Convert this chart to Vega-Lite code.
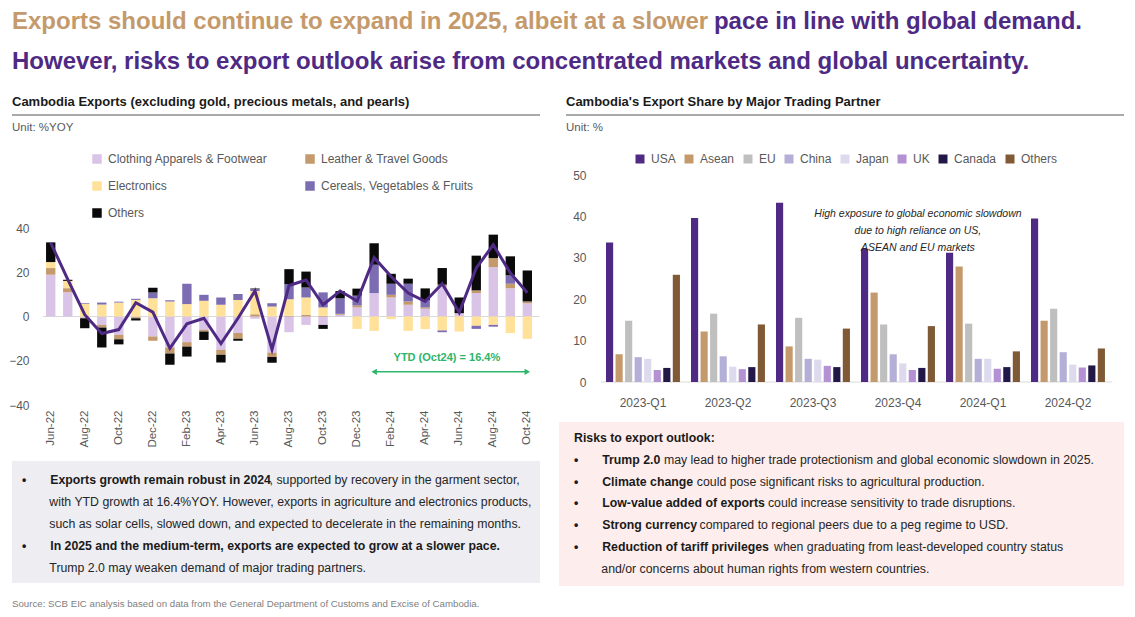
{
"$schema":"https://vega.github.io/schema/vega-lite/v6.json",
"padding":{"left":8,"top":0,"right":0,"bottom":0},
"background":"white",
"config":{"view":{"stroke":null},"font":"Liberation Sans","axis":{"labelFont":"Liberation Sans"},"legend":{"labelFont":"Liberation Sans"},"text":{"font":"Liberation Sans"}},
"datasets":{
"exports":[
{"m":"Jun-22","cat":"Clothing Apparels & Footwear","k":1,"v":18.9},{"m":"Jun-22","cat":"Leather & Travel Goods","k":2,"v":3.0},{"m":"Jun-22","cat":"Electronics","k":3,"v":2.7},{"m":"Jun-22","cat":"Cereals, Vegetables & Fruits","k":4,"v":0},{"m":"Jun-22","cat":"Others","k":5,"v":8.9},
{"m":"Jul-22","cat":"Clothing Apparels & Footwear","k":1,"v":11.0},{"m":"Jul-22","cat":"Leather & Travel Goods","k":2,"v":1.8},{"m":"Jul-22","cat":"Electronics","k":3,"v":3.3},{"m":"Jul-22","cat":"Cereals, Vegetables & Fruits","k":4,"v":0},{"m":"Jul-22","cat":"Others","k":5,"v":0.5},
{"m":"Aug-22","cat":"Clothing Apparels & Footwear","k":1,"v":-0.5},{"m":"Aug-22","cat":"Leather & Travel Goods","k":2,"v":-0.3},{"m":"Aug-22","cat":"Electronics","k":3,"v":5.8},{"m":"Aug-22","cat":"Cereals, Vegetables & Fruits","k":4,"v":0.3},{"m":"Aug-22","cat":"Others","k":5,"v":-4.5},
{"m":"Sep-22","cat":"Clothing Apparels & Footwear","k":1,"v":-3.8},{"m":"Sep-22","cat":"Leather & Travel Goods","k":2,"v":-1.2},{"m":"Sep-22","cat":"Electronics","k":3,"v":5.4},{"m":"Sep-22","cat":"Cereals, Vegetables & Fruits","k":4,"v":0.9},{"m":"Sep-22","cat":"Others","k":5,"v":-9.0},
{"m":"Oct-22","cat":"Clothing Apparels & Footwear","k":1,"v":-8.3},{"m":"Oct-22","cat":"Leather & Travel Goods","k":2,"v":-2.0},{"m":"Oct-22","cat":"Electronics","k":3,"v":6.3},{"m":"Oct-22","cat":"Cereals, Vegetables & Fruits","k":4,"v":0.4},{"m":"Oct-22","cat":"Others","k":5,"v":-2.3},
{"m":"Nov-22","cat":"Clothing Apparels & Footwear","k":1,"v":-0.3},{"m":"Nov-22","cat":"Leather & Travel Goods","k":2,"v":-0.5},{"m":"Nov-22","cat":"Electronics","k":3,"v":7.5},{"m":"Nov-22","cat":"Cereals, Vegetables & Fruits","k":4,"v":0.5},{"m":"Nov-22","cat":"Others","k":5,"v":-1.0},
{"m":"Dec-22","cat":"Clothing Apparels & Footwear","k":1,"v":-9.0},{"m":"Dec-22","cat":"Leather & Travel Goods","k":2,"v":-2.0},{"m":"Dec-22","cat":"Electronics","k":3,"v":8.3},{"m":"Dec-22","cat":"Cereals, Vegetables & Fruits","k":4,"v":2.6},{"m":"Dec-22","cat":"Others","k":5,"v":2.1},
{"m":"Jan-23","cat":"Clothing Apparels & Footwear","k":1,"v":-14.0},{"m":"Jan-23","cat":"Leather & Travel Goods","k":2,"v":-2.7},{"m":"Jan-23","cat":"Electronics","k":3,"v":6.8},{"m":"Jan-23","cat":"Cereals, Vegetables & Fruits","k":4,"v":0.6},{"m":"Jan-23","cat":"Others","k":5,"v":-5.1},
{"m":"Feb-23","cat":"Clothing Apparels & Footwear","k":1,"v":-11.6},{"m":"Feb-23","cat":"Leather & Travel Goods","k":2,"v":-2.0},{"m":"Feb-23","cat":"Electronics","k":3,"v":5.6},{"m":"Feb-23","cat":"Cereals, Vegetables & Fruits","k":4,"v":9.2},{"m":"Feb-23","cat":"Others","k":5,"v":-4.5},
{"m":"Mar-23","cat":"Clothing Apparels & Footwear","k":1,"v":-6.0},{"m":"Mar-23","cat":"Leather & Travel Goods","k":2,"v":-0.8},{"m":"Mar-23","cat":"Electronics","k":3,"v":7.1},{"m":"Mar-23","cat":"Cereals, Vegetables & Fruits","k":4,"v":2.7},{"m":"Mar-23","cat":"Others","k":5,"v":-3.8},
{"m":"Apr-23","cat":"Clothing Apparels & Footwear","k":1,"v":-15.0},{"m":"Apr-23","cat":"Leather & Travel Goods","k":2,"v":-2.3},{"m":"Apr-23","cat":"Electronics","k":3,"v":5.3},{"m":"Apr-23","cat":"Cereals, Vegetables & Fruits","k":4,"v":3.3},{"m":"Apr-23","cat":"Others","k":5,"v":-3.5},
{"m":"May-23","cat":"Clothing Apparels & Footwear","k":1,"v":-7.5},{"m":"May-23","cat":"Leather & Travel Goods","k":2,"v":-2.6},{"m":"May-23","cat":"Electronics","k":3,"v":7.5},{"m":"May-23","cat":"Cereals, Vegetables & Fruits","k":4,"v":2.7},{"m":"May-23","cat":"Others","k":5,"v":-0.9},
{"m":"Jun-23","cat":"Clothing Apparels & Footwear","k":1,"v":-1.0},{"m":"Jun-23","cat":"Leather & Travel Goods","k":2,"v":1.0},{"m":"Jun-23","cat":"Electronics","k":3,"v":10.5},{"m":"Jun-23","cat":"Cereals, Vegetables & Fruits","k":4,"v":0.8},{"m":"Jun-23","cat":"Others","k":5,"v":0.3},
{"m":"Jul-23","cat":"Clothing Apparels & Footwear","k":1,"v":-16.3},{"m":"Jul-23","cat":"Leather & Travel Goods","k":2,"v":-2.0},{"m":"Jul-23","cat":"Electronics","k":3,"v":4.5},{"m":"Jul-23","cat":"Cereals, Vegetables & Fruits","k":4,"v":1.5},{"m":"Jul-23","cat":"Others","k":5,"v":-2.6},
{"m":"Aug-23","cat":"Clothing Apparels & Footwear","k":1,"v":-7.1},{"m":"Aug-23","cat":"Leather & Travel Goods","k":2,"v":0.3},{"m":"Aug-23","cat":"Electronics","k":3,"v":7.5},{"m":"Aug-23","cat":"Cereals, Vegetables & Fruits","k":4,"v":6.8},{"m":"Aug-23","cat":"Others","k":5,"v":6.8},
{"m":"Sep-23","cat":"Clothing Apparels & Footwear","k":1,"v":-3.8},{"m":"Sep-23","cat":"Leather & Travel Goods","k":2,"v":0.8},{"m":"Sep-23","cat":"Electronics","k":3,"v":7.8},{"m":"Sep-23","cat":"Cereals, Vegetables & Fruits","k":4,"v":4.5},{"m":"Sep-23","cat":"Others","k":5,"v":7.2},
{"m":"Oct-23","cat":"Clothing Apparels & Footwear","k":1,"v":-3.8},{"m":"Oct-23","cat":"Leather & Travel Goods","k":2,"v":0.3},{"m":"Oct-23","cat":"Electronics","k":3,"v":3.8},{"m":"Oct-23","cat":"Cereals, Vegetables & Fruits","k":4,"v":6.8},{"m":"Oct-23","cat":"Others","k":5,"v":-1.8},
{"m":"Nov-23","cat":"Clothing Apparels & Footwear","k":1,"v":0.8},{"m":"Nov-23","cat":"Leather & Travel Goods","k":2,"v":0.4},{"m":"Nov-23","cat":"Electronics","k":3,"v":0},{"m":"Nov-23","cat":"Cereals, Vegetables & Fruits","k":4,"v":7.0},{"m":"Nov-23","cat":"Others","k":5,"v":3.3},
{"m":"Dec-23","cat":"Clothing Apparels & Footwear","k":1,"v":4.1},{"m":"Dec-23","cat":"Leather & Travel Goods","k":2,"v":0.9},{"m":"Dec-23","cat":"Electronics","k":3,"v":-5.6},{"m":"Dec-23","cat":"Cereals, Vegetables & Fruits","k":4,"v":4.4},{"m":"Dec-23","cat":"Others","k":5,"v":3.2},
{"m":"Jan-24","cat":"Clothing Apparels & Footwear","k":1,"v":10.6},{"m":"Jan-24","cat":"Leather & Travel Goods","k":2,"v":0},{"m":"Jan-24","cat":"Electronics","k":3,"v":-6.5},{"m":"Jan-24","cat":"Cereals, Vegetables & Fruits","k":4,"v":12.8},{"m":"Jan-24","cat":"Others","k":5,"v":9.7},
{"m":"Feb-24","cat":"Clothing Apparels & Footwear","k":1,"v":8.6},{"m":"Feb-24","cat":"Leather & Travel Goods","k":2,"v":1.2},{"m":"Feb-24","cat":"Electronics","k":3,"v":-1.2},{"m":"Feb-24","cat":"Cereals, Vegetables & Fruits","k":4,"v":5.0},{"m":"Feb-24","cat":"Others","k":5,"v":4.5},
{"m":"Mar-24","cat":"Clothing Apparels & Footwear","k":1,"v":5.3},{"m":"Mar-24","cat":"Leather & Travel Goods","k":2,"v":1.5},{"m":"Mar-24","cat":"Electronics","k":3,"v":-6.5},{"m":"Mar-24","cat":"Cereals, Vegetables & Fruits","k":4,"v":8.0},{"m":"Mar-24","cat":"Others","k":5,"v":2.3},
{"m":"Apr-24","cat":"Clothing Apparels & Footwear","k":1,"v":3.5},{"m":"Apr-24","cat":"Leather & Travel Goods","k":2,"v":0.6},{"m":"Apr-24","cat":"Electronics","k":3,"v":-5.7},{"m":"Apr-24","cat":"Cereals, Vegetables & Fruits","k":4,"v":3.3},{"m":"Apr-24","cat":"Others","k":5,"v":5.3},
{"m":"May-24","cat":"Clothing Apparels & Footwear","k":1,"v":13.6},{"m":"May-24","cat":"Leather & Travel Goods","k":2,"v":0.8},{"m":"May-24","cat":"Electronics","k":3,"v":-6.3},{"m":"May-24","cat":"Cereals, Vegetables & Fruits","k":4,"v":-0.8},{"m":"May-24","cat":"Others","k":5,"v":7.5},
{"m":"Jun-24","cat":"Clothing Apparels & Footwear","k":1,"v":1.5},{"m":"Jun-24","cat":"Leather & Travel Goods","k":2,"v":0},{"m":"Jun-24","cat":"Electronics","k":3,"v":-6.8},{"m":"Jun-24","cat":"Cereals, Vegetables & Fruits","k":4,"v":0},{"m":"Jun-24","cat":"Others","k":5,"v":7.1},
{"m":"Jul-24","cat":"Clothing Apparels & Footwear","k":1,"v":10.6},{"m":"Jul-24","cat":"Leather & Travel Goods","k":2,"v":1.2},{"m":"Jul-24","cat":"Electronics","k":3,"v":-4.2},{"m":"Jul-24","cat":"Cereals, Vegetables & Fruits","k":4,"v":-1.4},{"m":"Jul-24","cat":"Others","k":5,"v":15.7},
{"m":"Aug-24","cat":"Clothing Apparels & Footwear","k":1,"v":22.3},{"m":"Aug-24","cat":"Leather & Travel Goods","k":2,"v":4.1},{"m":"Aug-24","cat":"Electronics","k":3,"v":-3.8},{"m":"Aug-24","cat":"Cereals, Vegetables & Fruits","k":4,"v":-0.8},{"m":"Aug-24","cat":"Others","k":5,"v":10.6},
{"m":"Sep-24","cat":"Clothing Apparels & Footwear","k":1,"v":12.8},{"m":"Sep-24","cat":"Leather & Travel Goods","k":2,"v":2.0},{"m":"Sep-24","cat":"Electronics","k":3,"v":-7.5},{"m":"Sep-24","cat":"Cereals, Vegetables & Fruits","k":4,"v":3.8},{"m":"Sep-24","cat":"Others","k":5,"v":8.6},
{"m":"Oct-24","cat":"Clothing Apparels & Footwear","k":1,"v":6.0},{"m":"Oct-24","cat":"Leather & Travel Goods","k":2,"v":0.8},{"m":"Oct-24","cat":"Electronics","k":3,"v":-10.1},{"m":"Oct-24","cat":"Cereals, Vegetables & Fruits","k":4,"v":0},{"m":"Oct-24","cat":"Others","k":5,"v":14.0}
],
"total":[
{"m":"Jun-22","total":33.3},{"m":"Jul-22","total":16.8},{"m":"Aug-22","total":0.8},{"m":"Sep-22","total":-7.7},{"m":"Oct-22","total":-5.9},{"m":"Nov-22","total":6.2},{"m":"Dec-22","total":2.0},{"m":"Jan-23","total":-14.4},{"m":"Feb-23","total":-3.3},{"m":"Mar-23","total":-0.8},{"m":"Apr-23","total":-12.2},{"m":"May-23","total":-0.8},{"m":"Jun-23","total":11.6},{"m":"Jul-23","total":-14.9},{"m":"Aug-23","total":14.0},{"m":"Sep-23","total":16.5},{"m":"Oct-23","total":5.3},{"m":"Nov-23","total":11.5},{"m":"Dec-23","total":7.0},{"m":"Jan-24","total":26.6},{"m":"Feb-24","total":18.1},{"m":"Mar-24","total":10.6},{"m":"Apr-24","total":6.8},{"m":"May-24","total":14.8},{"m":"Jun-24","total":1.8},{"m":"Jul-24","total":21.9},{"m":"Aug-24","total":32.4},{"m":"Sep-24","total":19.7},{"m":"Oct-24","total":10.7}
],
"share":[
{"q":"2023-Q1","p":"USA","v":33.7},{"q":"2023-Q1","p":"Asean","v":6.7},{"q":"2023-Q1","p":"EU","v":14.8},{"q":"2023-Q1","p":"China","v":6.0},{"q":"2023-Q1","p":"Japan","v":5.6},{"q":"2023-Q1","p":"UK","v":2.9},{"q":"2023-Q1","p":"Canada","v":3.4},{"q":"2023-Q1","p":"Others","v":25.9},
{"q":"2023-Q2","p":"USA","v":39.6},{"q":"2023-Q2","p":"Asean","v":12.2},{"q":"2023-Q2","p":"EU","v":16.5},{"q":"2023-Q2","p":"China","v":6.2},{"q":"2023-Q2","p":"Japan","v":3.7},{"q":"2023-Q2","p":"UK","v":3.1},{"q":"2023-Q2","p":"Canada","v":3.6},{"q":"2023-Q2","p":"Others","v":13.9},
{"q":"2023-Q3","p":"USA","v":43.3},{"q":"2023-Q3","p":"Asean","v":8.6},{"q":"2023-Q3","p":"EU","v":15.5},{"q":"2023-Q3","p":"China","v":5.6},{"q":"2023-Q3","p":"Japan","v":5.4},{"q":"2023-Q3","p":"UK","v":3.9},{"q":"2023-Q3","p":"Canada","v":3.6},{"q":"2023-Q3","p":"Others","v":12.9},
{"q":"2023-Q4","p":"USA","v":32.2},{"q":"2023-Q4","p":"Asean","v":21.6},{"q":"2023-Q4","p":"EU","v":13.9},{"q":"2023-Q4","p":"China","v":6.7},{"q":"2023-Q4","p":"Japan","v":4.5},{"q":"2023-Q4","p":"UK","v":2.9},{"q":"2023-Q4","p":"Canada","v":3.4},{"q":"2023-Q4","p":"Others","v":13.5},
{"q":"2024-Q1","p":"USA","v":31.2},{"q":"2024-Q1","p":"Asean","v":27.9},{"q":"2024-Q1","p":"EU","v":14.1},{"q":"2024-Q1","p":"China","v":5.6},{"q":"2024-Q1","p":"Japan","v":5.6},{"q":"2024-Q1","p":"UK","v":3.2},{"q":"2024-Q1","p":"Canada","v":3.6},{"q":"2024-Q1","p":"Others","v":7.4},
{"q":"2024-Q2","p":"USA","v":39.5},{"q":"2024-Q2","p":"Asean","v":14.8},{"q":"2024-Q2","p":"EU","v":17.7},{"q":"2024-Q2","p":"China","v":7.2},{"q":"2024-Q2","p":"Japan","v":4.2},{"q":"2024-Q2","p":"UK","v":3.5},{"q":"2024-Q2","p":"Canada","v":4.0},{"q":"2024-Q2","p":"Others","v":8.1}
]
},
"spacing":0,
"bounds":"full",
"resolve":{"scale":{"color":"independent"},"legend":{"color":"independent"}},
"vconcat":[
{"width":1070,"height":84,
 "encoding":{"x":{"field":"pos","type":"nominal","scale":{"type":"point","domain":["start","end"],"padding":0},"axis":null},
  "y":{"field":"line","type":"ordinal","scale":{"type":"point","domain":[1,2],"padding":0.55},"axis":null},
  "text":{"field":"text"}},
 "layer":[
  {"data":{"values":[{"pos":"start","line":1,"text":"Exports should continue to expand in 2025, albeit at a slower"}]},"mark":{"type":"text","align":"left","baseline":"middle","fontSize":24,"fontWeight":"bold","color":"#C49A6C"}},
  {"data":{"values":[{"pos":"end","line":1,"text":"pace in line with global demand."}]},"mark":{"type":"text","align":"right","baseline":"middle","fontSize":24,"fontWeight":"bold","color":"#4E2A84"}},
  {"data":{"values":[{"pos":"start","line":2,"text":"However, risks to export outlook arise from concentrated markets and global uncertainty."}]},"mark":{"type":"text","align":"left","baseline":"middle","fontSize":24,"fontWeight":"bold","color":"#4E2A84"}}
 ]},
{"hconcat":[
 {"vconcat":[
  {"width":528,"height":88,
   "encoding":{"x":{"field":"pos","type":"nominal","scale":{"type":"point","domain":["start","end"],"padding":0},"axis":null},
    "y":{"field":"row","type":"quantitative","scale":{"domain":[-0.3846,6.3846],"reverse":true,"nice":false,"zero":false},"axis":null}},
   "layer":[
    {"data":{"values":[{"pos":"start","row":1,"text":"Cambodia Exports (excluding gold, precious metals, and pearls)"}]},"mark":{"type":"text","align":"left","baseline":"middle","fontSize":13,"fontWeight":"bold","color":"#1A1A1A"},"encoding":{"text":{"field":"text"}}},
    {"data":{"values":[{"pos":"start","end":"end","row":2}]},"mark":{"type":"rule","color":"#8C8C8C","strokeWidth":1.5},"encoding":{"x2":{"field":"end"}}},
    {"data":{"values":[{"pos":"start","row":3,"text":"Unit: %YOY"}]},"mark":{"type":"text","align":"left","baseline":"middle","fontSize":11.5,"color":"#595959"},"encoding":{"text":{"field":"text"}}}
   ]},
  {"width":520,"height":177,
   "layer":[
    {"data":{"values":[{}]},"mark":{"type":"rule","color":"#D9D9D9","strokeWidth":1.2},
     "encoding":{"x":{"datum":"Jun-22","type":"nominal","bandPosition":-0.33},"x2":{"datum":"Oct-24","bandPosition":1.8},"y":{"datum":0,"type":"quantitative"}}},
    {"data":{"name":"exports"},"mark":{"type":"bar"},
     "encoding":{
      "x":{"field":"m","type":"nominal","scale":{"domain":["Jun-22","Jul-22","Aug-22","Sep-22","Oct-22","Nov-22","Dec-22","Jan-23","Feb-23","Mar-23","Apr-23","May-23","Jun-23","Jul-23","Aug-23","Sep-23","Oct-23","Nov-23","Dec-23","Jan-24","Feb-24","Mar-24","Apr-24","May-24","Jun-24","Jul-24","Aug-24","Sep-24","Oct-24"],"paddingInner":0.45,"paddingOuter":1,"align":1,"round":false},
       "axis":{"title":null,"values":["Jun-22","Aug-22","Oct-22","Dec-22","Feb-23","Apr-23","Jun-23","Aug-23","Oct-23","Dec-23","Feb-24","Apr-24","Jun-24","Aug-24","Oct-24"],"labelAngle":-90,"labelAlign":"right","labelBaseline":"middle","labelFontSize":11.5,"labelColor":"#595959","ticks":false,"domain":false,"grid":false,"labelPadding":5,"labelOverlap":false}},
      "y":{"field":"v","type":"quantitative","stack":"zero","scale":{"domain":[-40,40],"nice":false},
       "axis":{"title":null,"values":[-40,-20,0,20,40],"grid":false,"domain":false,"ticks":false,"labelPadding":0,"offset":-17,"labelFontSize":12,"labelColor":"#595959"}},
      "color":{"field":"cat","type":"nominal","scale":{"domain":["Clothing Apparels & Footwear","Leather & Travel Goods","Electronics","Cereals, Vegetables & Fruits","Others"],"range":["#D9C3E6","#C49A6C","#FFE199","#7C6DB2","#0A0A0A"]},
       "legend":{"title":null,"orient":"none","legendX":79,"legendY":-75,"direction":"horizontal","columns":2,"symbolType":"square","symbolSize":90,"symbolStrokeWidth":0,"labelFontSize":12,"labelColor":"#595959","rowPadding":15,"columnPadding":36,"labelOffset":5,"padding":0}},
      "order":{"field":"k","type":"quantitative"}}},
    {"data":{"name":"total"},"mark":{"type":"line","color":"#4E2A84","strokeWidth":3},
     "encoding":{"x":{"field":"m","type":"nominal"},"y":{"field":"total","type":"quantitative"}}},
    {"data":{"values":[{}]},"mark":{"type":"text","align":"center","baseline":"middle","fontSize":11,"fontWeight":"bold","color":"#2DB56A"},
     "encoding":{"x":{"datum":"May-24","type":"nominal","bandPosition":1},"y":{"datum":-18.7,"type":"quantitative"},"text":{"value":"YTD (Oct24) = 16.4%"}}},
    {"data":{"values":[{}]},"mark":{"type":"rule","color":"#2DB56A","strokeWidth":1.5},
     "encoding":{"x":{"datum":"Jan-24","type":"nominal"},"x2":{"datum":"Oct-24"},"y":{"datum":-25,"type":"quantitative"}}},
    {"data":{"values":[{}]},"mark":{"type":"point","shape":"triangle-left","filled":true,"size":40,"opacity":1,"color":"#2DB56A"},
     "encoding":{"x":{"datum":"Jan-24","type":"nominal"},"y":{"datum":-25,"type":"quantitative"}}},
    {"data":{"values":[{}]},"mark":{"type":"point","shape":"triangle-right","filled":true,"size":40,"opacity":1,"color":"#2DB56A"},
     "encoding":{"x":{"datum":"Oct-24","type":"nominal"},"y":{"datum":-25,"type":"quantitative"}}}
   ]},
  {"width":528,"height":122,"view":{"fill":"#EDEDF2","stroke":null},
   "encoding":{"x":{"field":"pos","type":"nominal","scale":{"type":"point","domain":["start","end"],"padding":0.01969,"align":0.5},"axis":null},
    "y":{"field":"line","type":"ordinal","scale":{"type":"point","domain":[1,2,3,4,5],"padding":0.7727,"align":0.5588},"axis":null},
    "text":{"field":"text"}},
   "layer":[
    {"data":{"values":[
      {"pos":"start","line":1,"text":"•\u00a0\u00a0\u00a0\u00a0\u00a0\u00a0\u00a0Exports growth remain robust in 2024"},
      {"pos":"start","line":4,"text":"•\u00a0\u00a0\u00a0\u00a0\u00a0\u00a0\u00a0In 2025 and the medium-term, exports are expected to grow at a slower pace."}]},
     "mark":{"type":"text","align":"left","baseline":"middle","fontSize":12.3,"fontWeight":"bold","color":"#1A1A1A"}},
    {"data":{"values":[
      {"pos":"end","line":1,"text":", supported by recovery in the garment sector,\u00a0\u00a0\u00a0\u200b"}]},
     "mark":{"type":"text","align":"right","baseline":"middle","fontSize":12.3,"color":"#262626"}},
    {"data":{"values":[
      {"pos":"start","line":2,"text":"\u200b\u00a0\u00a0\u00a0\u00a0\u00a0\u00a0\u00a0\u00a0with YTD growth at 16.4%YOY. However, exports in agriculture and electronics products,"},
      {"pos":"start","line":3,"text":"\u200b\u00a0\u00a0\u00a0\u00a0\u00a0\u00a0\u00a0\u00a0such as solar cells, slowed down, and expected to decelerate in the remaining months."},
      {"pos":"start","line":5,"text":"\u200b\u00a0\u00a0\u00a0\u00a0\u00a0\u00a0\u00a0\u00a0Trump 2.0 may weaken demand of major trading partners."}]},
     "mark":{"type":"text","align":"left","baseline":"middle","fontSize":12.3,"color":"#262626"}}
   ]}
 ],"spacing":56,"bounds":"flush","resolve":{"scale":{"color":"independent"},"legend":{"color":"independent"}}},
 {"vconcat":[
  {"width":565,"height":51,
   "encoding":{"x":{"field":"pos","type":"nominal","scale":{"type":"point","domain":["start","end"],"padding":0.00627,"align":1},"axis":null},
    "y":{"field":"row","type":"quantitative","scale":{"domain":[-0.3846,3.5385],"reverse":true,"nice":false,"zero":false},"axis":null}},
   "layer":[
    {"data":{"values":[{"pos":"start","row":1,"text":"Cambodia's Export Share by Major Trading Partner"}]},"mark":{"type":"text","align":"left","baseline":"middle","fontSize":13,"fontWeight":"bold","color":"#1A1A1A"},"encoding":{"text":{"field":"text"}}},
    {"data":{"values":[{"pos":"start","end":"end","row":2}]},"mark":{"type":"rule","color":"#8C8C8C","strokeWidth":1.5},"encoding":{"x2":{"field":"end"}}},
    {"data":{"values":[{"pos":"start","row":3,"text":"Unit: %"}]},"mark":{"type":"text","align":"left","baseline":"middle","fontSize":11.5,"color":"#595959"},"encoding":{"text":{"field":"text"}}}
   ]},
  {"width":565,"height":207,
   "layer":[
    {"data":{"values":[{}]},"mark":{"type":"rule","color":"#D9D9D9","strokeWidth":1.2},
     "encoding":{"x":{"datum":"2023-Q1","type":"nominal","bandPosition":-0.07},"x2":{"datum":"2024-Q2","bandPosition":1.1},"y":{"datum":0,"type":"quantitative"}}},
    {"data":{"name":"share"},"mark":{"type":"bar"},
     "encoding":{
      "x":{"field":"q","type":"nominal","scale":{"domain":["2023-Q1","2023-Q2","2023-Q3","2023-Q4","2024-Q1","2024-Q2"],"paddingInner":0.13,"paddingOuter":0.3885,"align":0.7116,"round":false},
       "axis":{"title":null,"labelAngle":0,"labelAlign":"center","labelBaseline":"top","labelFontSize":12,"labelColor":"#595959","labelPadding":15,"ticks":false,"domain":false,"grid":false}},
      "xOffset":{"field":"p","type":"nominal","scale":{"domain":["USA","Asean","EU","China","Japan","UK","Canada","Others"],"paddingInner":0.25,"paddingOuter":0}},
      "y":{"field":"v","type":"quantitative","scale":{"domain":[0,50],"nice":false},
       "axis":{"title":null,"values":[0,10,20,30,40,50],"grid":false,"domain":false,"ticks":false,"labelPadding":0,"offset":-27,"labelFontSize":12,"labelColor":"#595959"}},
      "color":{"field":"p","type":"nominal","scale":{"domain":["USA","Asean","EU","China","Japan","UK","Canada","Others"],"range":["#4E2A84","#C49A6C","#BFBFBF","#B4AFD6","#DDDAEE","#B391D3","#221848","#7F5A35"]},
       "legend":{"title":null,"orient":"none","legendX":75,"legendY":-22,"direction":"horizontal","symbolType":"square","symbolSize":81,"symbolStrokeWidth":0,"labelFontSize":12,"labelColor":"#595959","columnPadding":7,"labelOffset":5,"padding":0}}}},
    {"data":{"values":[{}]},"mark":{"type":"text","align":"center","baseline":"middle","fontSize":10.5,"fontStyle":"italic","color":"#262626","lineHeight":17},
     "encoding":{"x":{"datum":"2023-Q4","type":"nominal","bandPosition":0.77},"y":{"datum":40.6,"type":"quantitative"},"text":{"value":["High exposure to global economic slowdown","due to high reliance on US,","ASEAN and EU markets"]}}}
   ]},
  {"width":565,"height":164,"view":{"fill":"#FDEDEC","stroke":null},
   "encoding":{"x":{"field":"pos","type":"nominal","scale":{"type":"point","domain":["start","end"],"padding":0.02607,"align":0.5357},"axis":null},
    "y":{"field":"line","type":"ordinal","scale":{"type":"point","domain":[1,2,3,4,5,6,7],"padding":0.7557,"align":0.4848},"axis":null},
    "text":{"field":"text"}},
   "layer":[
    {"data":{"values":[
      {"pos":"start","line":1,"text":"Risks to export outlook:"},
      {"pos":"start","line":2,"text":"•\u00a0\u00a0\u00a0\u00a0\u00a0\u00a0\u00a0Trump 2.0"},
      {"pos":"start","line":3,"text":"•\u00a0\u00a0\u00a0\u00a0\u00a0\u00a0\u00a0Climate change"},
      {"pos":"start","line":4,"text":"•\u00a0\u00a0\u00a0\u00a0\u00a0\u00a0\u00a0Low-value added of exports"},
      {"pos":"start","line":5,"text":"•\u00a0\u00a0\u00a0\u00a0\u00a0\u00a0\u00a0Strong currency"},
      {"pos":"start","line":6,"text":"•\u00a0\u00a0\u00a0\u00a0\u00a0\u00a0\u00a0Reduction of tariff privileges"}]},
     "mark":{"type":"text","align":"left","baseline":"middle","fontSize":12.3,"fontWeight":"bold","color":"#1A1A1A"}},
    {"data":{"values":[
      {"pos":"end","line":2,"text":"may lead to higher trade protectionism and global economic slowdown in 2025.\u00a0\u00a0\u00a0\u00a0\u00a0\u200b"},
      {"pos":"end","line":3,"text":"could pose significant risks to agricultural production.\u00a0\u00a0\u00a0\u00a0\u00a0\u00a0\u00a0\u00a0\u00a0\u00a0\u00a0\u00a0\u00a0\u00a0\u00a0\u00a0\u00a0\u00a0\u00a0\u00a0\u00a0\u00a0\u00a0\u00a0\u00a0\u00a0\u00a0\u00a0\u00a0\u00a0\u00a0\u00a0\u00a0\u00a0\u00a0\u00a0\u00a0\u200b"},
      {"pos":"end","line":4,"text":"could increase sensitivity to trade disruptions.\u00a0\u00a0\u00a0\u00a0\u00a0\u00a0\u00a0\u00a0\u00a0\u00a0\u00a0\u00a0\u00a0\u00a0\u00a0\u00a0\u00a0\u00a0\u00a0\u00a0\u00a0\u00a0\u00a0\u00a0\u00a0\u00a0\u00a0\u00a0\u200b"},
      {"pos":"end","line":5,"text":"compared to regional peers due to a peg regime to USD.\u00a0\u00a0\u00a0\u00a0\u00a0\u00a0\u00a0\u00a0\u00a0\u00a0\u00a0\u00a0\u00a0\u00a0\u00a0\u00a0\u00a0\u00a0\u00a0\u00a0\u00a0\u00a0\u00a0\u00a0\u00a0\u00a0\u00a0\u00a0\u00a0\u00a0\u200b"},
      {"pos":"end","line":6,"text":"when graduating from least-developed country status\u00a0\u00a0\u00a0\u00a0\u00a0\u00a0\u00a0\u00a0\u00a0\u00a0\u00a0\u00a0\u00a0\u00a0\u200b"}]},
     "mark":{"type":"text","align":"right","baseline":"middle","fontSize":12.3,"color":"#262626"}},
    {"data":{"values":[
      {"pos":"start","line":7,"text":"\u200b\u00a0\u00a0\u00a0\u00a0\u00a0\u00a0\u00a0\u00a0and/or concerns about human rights from western countries."}]},
     "mark":{"type":"text","align":"left","baseline":"middle","fontSize":12.3,"color":"#262626"}}
   ]}
 ],"spacing":40,"bounds":"flush","resolve":{"scale":{"color":"independent"},"legend":{"color":"independent"}}}
],"spacing":18,"bounds":"full","resolve":{"scale":{"color":"independent"},"legend":{"color":"independent"}}},
{"width":1070,"height":31,
 "data":{"values":[{"pos":"start","text":"Source: SCB EIC analysis based on data from the General Department of Customs and Excise of Cambodia."}]},
 "mark":{"type":"text","align":"left","baseline":"middle","fontSize":9.7,"color":"#808080"},
 "encoding":{"x":{"field":"pos","type":"nominal","scale":{"type":"point","domain":["start"],"padding":0,"align":0},"axis":null},
  "y":{"field":"pos","type":"nominal","scale":{"type":"point","domain":["start"],"padding":0,"align":0.58},"axis":null},
  "text":{"field":"text"}}}
]
}
